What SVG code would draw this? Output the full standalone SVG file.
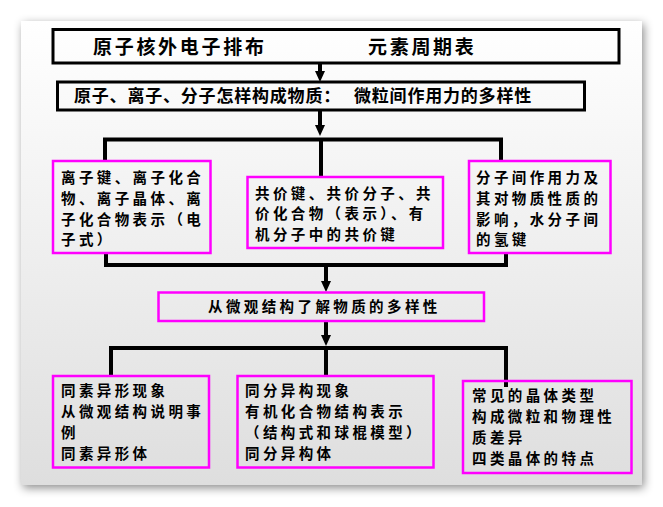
<svg xmlns="http://www.w3.org/2000/svg" width="663" height="507" viewBox="0 0 663 507">
  <defs>
    <linearGradient id="bg" x1="0" y1="0" x2="0" y2="1">
      <stop offset="0" stop-color="#ffffff"/>
      <stop offset="1" stop-color="#dedede"/>
    </linearGradient>
    <filter id="shadow" x="-10%" y="-10%" width="120%" height="120%">
      <feDropShadow dx="2" dy="3" stdDeviation="5" flood-color="#000000" flood-opacity="0.45"/>
    </filter>
    <marker id="arrow" markerUnits="userSpaceOnUse" markerWidth="12" markerHeight="11" refX="3" refY="5" orient="auto">
      <path d="M0,0 L11,5 L0,10 z" fill="#000"/>
    </marker>
    <style>
      .panel { fill: url(#bg); filter: url(#shadow); }
      .bbox { fill: none; stroke: #000; stroke-width: 3; }
      .mbox { fill: none; stroke: #ff00ff; stroke-width: 2.5; }
      .conn { fill: none; stroke: #000; stroke-width: 4; }
      .arr { fill: none; stroke: #000; stroke-width: 4; marker-end: url(#arrow); }
      text { font-family: "Noto Sans CJK SC", "Noto Sans", sans-serif; fill: #000; font-weight: bold; }
      .t1 { font-size: 19px; letter-spacing: 2.7px; }
      .t2 { font-size: 17px; letter-spacing: 0.8px; }
      .t3 { font-size: 14.5px; letter-spacing: 3.4px; }
    </style>
  </defs>

  <rect class="panel" x="21" y="21" width="621" height="464"/>

  <g id="connectors">
    <path class="arr" d="M320,64 V74"/>
    <path class="arr" d="M320,111 V128"/>
    <path class="conn" d="M105,161 V139.5 H501 V161"/>
    <path class="conn" d="M321,139.5 V177"/>
    <path class="conn" d="M106,253 V265 H506 V253"/>
    <path class="arr" d="M326,265 V284"/>
    <path class="arr" d="M326,322 V338"/>
    <path class="conn" d="M111,376 V348 H506 V387"/>
    <path class="conn" d="M326,348 V376"/>
  </g>

  <g id="n1">
    <rect class="bbox" x="53" y="29.5" width="566" height="33.5"/>
    <text class="t1" x="93" y="54">原子核外电子排布</text>
    <text class="t1" x="368" y="54">元素周期表</text>
  </g>

  <g id="n2">
    <rect class="bbox" x="57.5" y="82" width="527" height="28"/>
    <text class="t2" x="74" y="102">原子、离子、分子怎样构成物质：<tspan x="354">微粒间作用力的多样性</tspan></text>
  </g>

  <g id="n3">
    <rect class="mbox" x="53" y="161" width="157.5" height="92"/>
    <text class="t3" x="61" y="182.5">离子键、离子化合</text>
    <text class="t3" x="61" y="203.5">物、离子晶体、离</text>
    <text class="t3" x="61" y="224.5">子化合物表示（电</text>
    <text class="t3" x="61" y="245">子式）</text>
  </g>

  <g id="n4">
    <rect class="mbox" x="247.5" y="177" width="195.5" height="71"/>
    <text class="t3" x="255" y="198.5">共价键、共价分子、共</text>
    <text class="t3" x="255" y="219">价化合物（表示）、有</text>
    <text class="t3" x="255" y="239.5">机分子中的共价键</text>
  </g>

  <g id="n5">
    <rect class="mbox" x="469" y="161" width="141.5" height="92"/>
    <text class="t3" x="476" y="182.5">分子间作用力及</text>
    <text class="t3" x="476" y="203.5">其对物质性质的</text>
    <text class="t3" x="476" y="224.5">影响，水分子间</text>
    <text class="t3" x="476" y="245">的氢键</text>
  </g>

  <g id="n6">
    <rect class="mbox" x="158.5" y="292.5" width="325.5" height="28.5"/>
    <text class="t3" x="208" y="311.5">从微观结构了解物质的多样性</text>
  </g>

  <g id="n7">
    <rect class="mbox" x="53" y="376" width="156" height="91.5"/>
    <text class="t3" x="61" y="395.5">同素异形现象</text>
    <text class="t3" x="61" y="416.5">从微观结构说明事</text>
    <text class="t3" x="61" y="437.5">例</text>
    <text class="t3" x="61" y="458.5">同素异形体</text>
  </g>

  <g id="n8">
    <rect class="mbox" x="237.5" y="376" width="196" height="91.5"/>
    <text class="t3" x="245" y="395.5">同分异构现象</text>
    <text class="t3" x="245" y="416.5">有机化合物结构表示</text>
    <text class="t3" x="245" y="437.5">（结构式和球棍模型）</text>
    <text class="t3" x="245" y="458.5">同分异构体</text>
  </g>

  <g id="n9">
    <rect class="mbox" x="463" y="381" width="168.5" height="92"/>
    <text class="t3" x="472" y="400.5">常见的晶体类型</text>
    <text class="t3" x="472" y="422">构成微粒和物理性</text>
    <text class="t3" x="472" y="443">质差异</text>
    <text class="t3" x="472" y="464">四类晶体的特点</text>
  </g>
</svg>
